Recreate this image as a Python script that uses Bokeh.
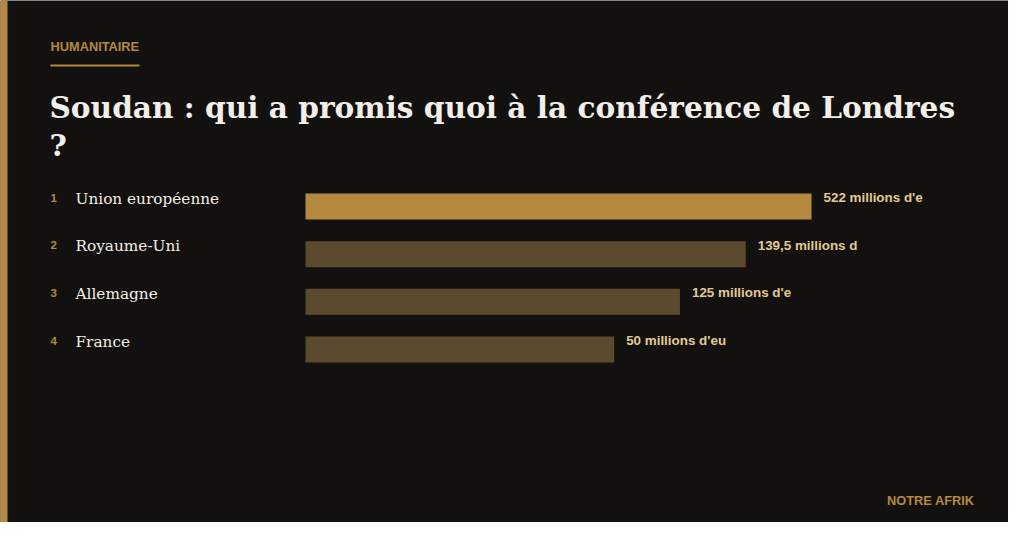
from bokeh.plotting import figure
from bokeh.models import Range1d, Label, ColumnDataSource
from bokeh.core.properties import value
from bokeh.embed import file_html
from bokeh.resources import INLINE

# ---- data ----
kicker = "HUMANITAIRE"
title_lines = ["Soudan : qui a promis quoi à la conférence de Londres", "?"]
source_note = "NOTRE AFRIK"
ranks = [1, 2, 3, 4]
countries = ["Union européenne", "Royaume-Uni", "Allemagne", "France"]
amounts_millions_eur = [522, 139.5, 125, 50]
value_labels = ["522 millions d'e", "139,5 millions d", "125 millions d'e", "50 millions d'eu"]
bar_share = [100, 87, 74, 61]   # displayed bar length (% of the longest)
highlight = [True, False, False, False]

W, H = 1008, 522
BG = "#121110"
GOLD = "#b5893e"
DIM = "#5c4a2e"
WHITE = "#f2efe8"
LABEL = "#e2c995"

p = figure(width=W, height=H, output_backend="svg", toolbar_location=None,
           x_range=Range1d(0, W), y_range=Range1d(H, 0), min_border=0)
p.axis.visible = False
p.grid.visible = False
p.outline_line_color = None
p.background_fill_color = BG
p.border_fill_color = BG

px_per_pct = 5.06
x0 = 305
p.extra_x_ranges["pct"] = Range1d(-x0 / px_per_pct, (W - x0) / px_per_pct)
slope = 3 / 143.0
e = 1 - slope * 206
s = e + slope * H
p.extra_y_ranges["rank"] = Range1d(s, e)

src = ColumnDataSource(dict(
    rank=ranks, country=countries, amount=amounts_millions_eur,
    label=value_labels, share=bar_share,
    color=[GOLD if h else DIM for h in highlight],
    rank_txt=[str(r) for r in ranks],
    zero=[0] * len(ranks),
))

p.quad(left=0, right=7, bottom=H, top=0, fill_color=GOLD, line_color=None)

p.add_layout(Label(x=50, y=46, text=kicker, text_font="Liberation Sans",
                   text_font_style="bold", text_font_size="12.8px", text_color=GOLD,
                   text_baseline="middle", text_align="left"))
p.segment(x0=50, y0=65, x1=139, y1=65, line_color=GOLD, line_width=2)

title_y = [107, 145]
for t, ty in zip(title_lines, title_y):
    p.add_layout(Label(x=49, y=ty, text=t, text_font="DejaVu Serif",
                       text_font_style="bold", text_font_size="29.6px", text_color=WHITE,
                       text_baseline="middle", text_align="left"))

p.hbar(y="rank", left="zero", right="share", height=26 / 47.67, fill_color="color",
       line_color=None, source=src, x_range_name="pct", y_range_name="rank")

p.text(x=50, y="rank", text="rank_txt", source=src, y_range_name="rank",
       text_font=value("Liberation Sans"), text_font_style="bold", text_font_size="11.5px",
       text_color=GOLD, text_baseline="middle", y_offset=-9)

p.text(x=75, y="rank", text="country", source=src, y_range_name="rank",
       text_font=value("DejaVu Serif"), text_font_size="15.3px",
       text_color=WHITE, text_baseline="middle", y_offset=-8)

p.text(x="share", y="rank", text="label", source=src, x_range_name="pct", y_range_name="rank",
       text_font=value("Liberation Sans"), text_font_style="bold", text_font_size="13.4px",
       text_color=LABEL, text_baseline="middle", x_offset=12, y_offset=-9)

p.add_layout(Label(x=974, y=500, text=source_note, text_font="Liberation Sans",
                   text_font_style="bold", text_font_size="12.8px", text_color=GOLD,
                   text_baseline="middle", text_align="right"))

open("out.html", "w").write(file_html(p, INLINE))
